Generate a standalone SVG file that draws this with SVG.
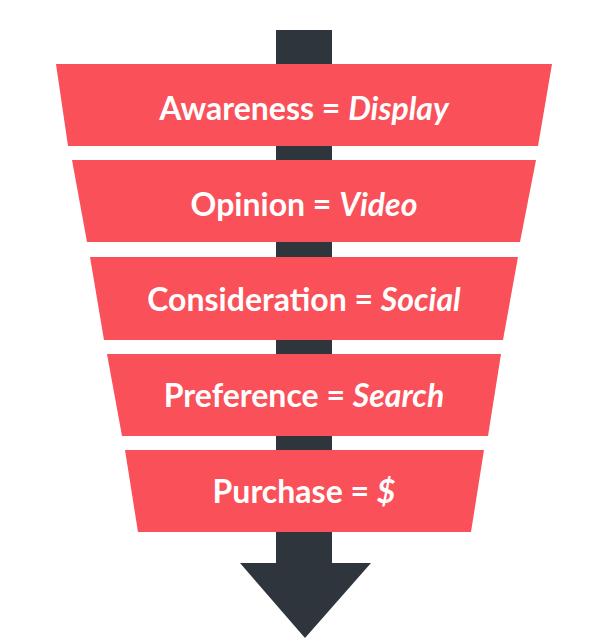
<svg xmlns="http://www.w3.org/2000/svg" width="600" height="642" viewBox="0 0 600 642">
<style>
.band{fill:#FA5059}
.t{font-family:Lato,"Liberation Sans",sans-serif;font-weight:bold;font-size:32px;fill:#fff;text-anchor:middle}
.i{font-style:italic}
</style>
<rect width="600" height="642" fill="#fff"/>
<g id="connectors">
<path d="M276 30H332V563H371L305 638L240 563H276Z" fill="#2E353C"/>
</g>
<g id="n1"><polygon class="band" points="56,64 552,64 538,146 68,146"/><text class="t" x="304" y="120">Awareness = <tspan class="i">Display</tspan></text></g>
<g id="n2"><polygon class="band" points="72,160 536,160 520,242 87,242"/><text class="t" x="304" y="216">Opinion = <tspan class="i">Video</tspan></text></g>
<g id="n3"><polygon class="band" points="90,257 518,257 503,340 104,340"/><text class="t" x="304" y="311">Consideration = <tspan class="i">Social</tspan></text></g>
<g id="n4"><polygon class="band" points="107,354 501,354 488,436 122,436"/><text class="t" x="304" y="407">Preference = <tspan class="i">Search</tspan></text></g>
<g id="n5"><polygon class="band" points="125,450 484,450 471,532 138,532"/><text class="t" x="304" y="503">Purchase = <tspan class="i">$</tspan></text></g>
</svg>
